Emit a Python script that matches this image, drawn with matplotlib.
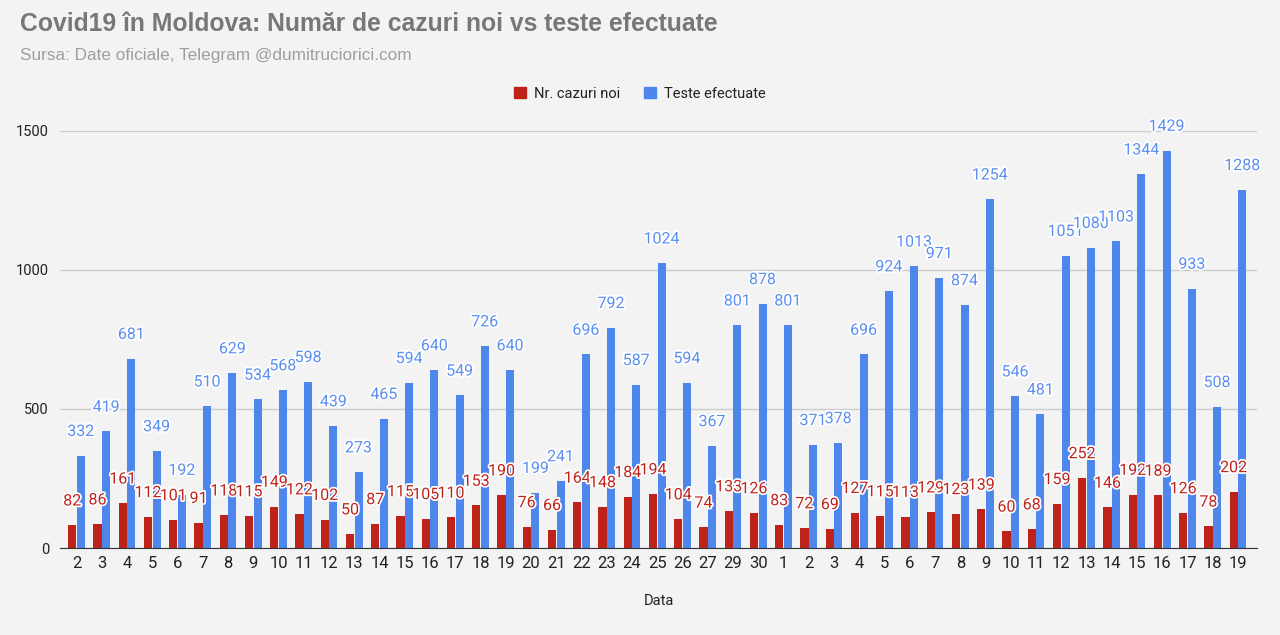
import matplotlib.pyplot as plt
import matplotlib.patheffects as pe
import numpy as np

# zilele (aprilie -> mai)
days = ['2', '3', '4', '5', '6', '7', '8', '9', '10', '11', '12', '13', '14', '15',
        '16', '17', '18', '19', '20', '21', '22', '23', '24', '25', '26', '27', '29',
        '30', '1', '2', '3', '4', '5', '6', '7', '8', '9', '10', '11', '12', '13',
        '14', '15', '16', '17', '18', '19']
cazuri_noi = [82, 86, 161, 112, 101, 91, 118, 115, 149, 122, 102, 50, 87, 115,
              105, 110, 153, 190, 76, 66, 164, 148, 184, 194, 104, 74, 133, 126,
              83, 72, 69, 127, 115, 113, 129, 123, 139, 60, 68, 159, 252, 146,
              192, 189, 126, 78, 202]
teste = [332, 419, 681, 349, 192, 510, 629, 534, 568, 598, 439, 273, 465, 594,
         640, 549, 726, 640, 199, 241, 696, 792, 587, 1024, 594, 367, 801, 878,
         801, 371, 378, 696, 924, 1013, 971, 874, 1254, 546, 481, 1051, 1080,
         1103, 1344, 1429, 933, 508, 1288]
y_ticks = [0, 500, 1000, 1500]

BG = '#f3f3f3'
RED = '#bd2318'
BLUE = '#4e86ec'
RED_TXT = '#c0231a'
BLUE_TXT = '#5a8ef0'

plt.rcParams['font.family'] = ['Roboto', 'DejaVu Sans']

fig = plt.figure(figsize=(12.8, 6.35), dpi=100, facecolor=BG)
ax = fig.add_axes([0.047, 0.137, 0.935, 0.657], facecolor=BG)

x = np.arange(len(days))
w = 0.32
off = 0.17
ax.bar(x - off, cazuri_noi, width=w, color=RED, zorder=3)
ax.bar(x + off, teste, width=w, color=BLUE, zorder=3)

stroke = [pe.withStroke(linewidth=2.5, foreground='white')]
for xi, v in zip(x, cazuri_noi):
    ax.annotate(str(v), (xi - off, v), xytext=(0, 12), textcoords='offset points',
                ha='center', va='bottom', fontsize=11.5, color=RED_TXT,
                path_effects=stroke, zorder=6)
for xi, v in zip(x, teste):
    ax.annotate(str(v), (xi + off, v), xytext=(0, 12), textcoords='offset points',
                ha='center', va='bottom', fontsize=11.5, color=BLUE_TXT,
                path_effects=stroke, zorder=5)

ax.set_xlim(-0.65, len(days) - 0.25)
ax.set_ylim(0, 1500)
ax.set_yticks(y_ticks)
ax.set_xticks(x)
ax.set_xticklabels(days)
ax.tick_params(axis='both', length=0, labelsize=10.5, colors='#222222')
ax.tick_params(axis='x', pad=6, labelsize=12)
ax.tick_params(axis='y', pad=8)
ax.grid(axis='y', color='#cccccc', linewidth=1, zorder=0)
for s in ['top', 'right', 'left']:
    ax.spines[s].set_visible(False)
ax.spines['bottom'].set_color('#333333')
ax.spines['bottom'].set_zorder(4)
ax.set_xlabel('Data', fontsize=10.5, color='#222222', labelpad=16)

fig.text(0.016, 0.962, 'Covid19 în Moldova: Număr de cazuri noi vs teste efectuate',
         fontsize=17.8, fontweight='bold', color='#777777', va='center',
         family=['Liberation Sans', 'DejaVu Sans'])
fig.text(0.016, 0.912, 'Sursa: Date oficiale, Telegram @dumitruciorici.com',
         fontsize=12.4, color='#9e9e9e', va='center',
         family=['Liberation Sans', 'DejaVu Sans'])

h1 = plt.Rectangle((0, 0), 1, 1, color=RED)
h2 = plt.Rectangle((0, 0), 1, 1, color=BLUE)
fig.legend([h1, h2], ['Nr. cazuri noi', 'Teste efectuate'], loc='center',
           bbox_to_anchor=(0.5, 0.852), ncol=2, frameon=False, fontsize=10.5,
           handlelength=0.8, handleheight=0.8, handletextpad=0.6, columnspacing=1.6,
           labelcolor='#222222')

fig.savefig('out.png', dpi=100, facecolor=BG)
